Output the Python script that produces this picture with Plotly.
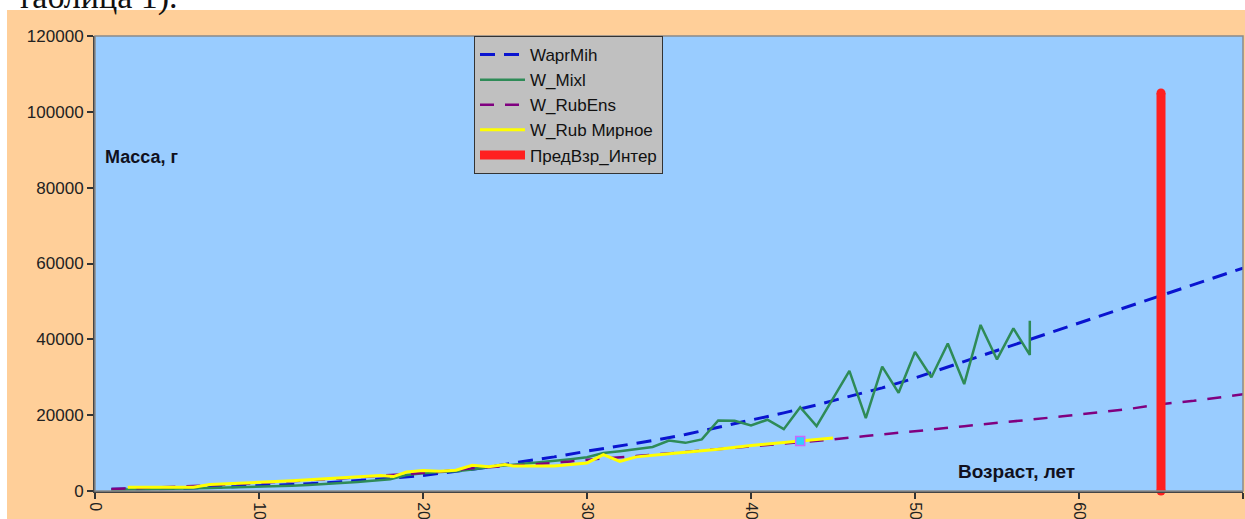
import plotly.graph_objects as go

# ---------------- data ----------------
wapr_age = [1, 2, 4, 6, 8, 10, 12, 14, 16, 18, 20, 22, 24, 26, 28, 30, 32, 34, 36, 38,
            40, 42, 44, 46, 48, 50, 52, 54, 56, 58, 60, 62, 64, 66, 68, 70]
wapr_val = [450, 450, 600, 800, 1050, 1350, 1700, 2150, 2700, 3350, 4100, 5200, 6300, 7700,
            9000, 10500, 11900, 13300, 14900, 16800, 18600, 20600, 22700, 24900, 27200,
            29800, 32700, 35600, 38500, 41300, 44300, 47200, 50100, 52800, 55800, 58800]

mixl_age = [1, 2, 3, 4, 5, 6, 7, 8, 9, 10, 11, 12, 13, 14, 15, 16, 17, 18, 19, 20, 21, 22,
            23, 24, 25, 26, 27, 28, 29, 30, 31, 32, 33, 34, 35, 36, 37, 38, 39, 40, 41, 42,
            43, 44, 46, 47, 48, 49, 50, 51, 52, 53, 54, 55, 56, 57, 57]
mixl_val = [300, 350, 400, 450, 500, 600, 800, 900, 1000, 1100, 1250, 1400, 1600, 1800,
            2100, 2400, 2800, 3100, 4200, 4700, 5000, 5200, 5700, 6300, 6700, 7100, 7500,
            7900, 8400, 8900, 10000, 10500, 11000, 11600, 13300, 12700, 13600, 18600, 18500,
            17300, 18800, 16300, 22100, 17100, 31700, 19200, 32800, 25900, 36700, 30000,
            38900, 28200, 43800, 34700, 42900, 35900, 44900]

rubens_age = [1, 3, 5, 7, 9, 11, 13, 15, 17, 19, 21, 23, 25, 27, 29, 31, 33, 35, 37, 39, 41,
              43, 45, 47, 49, 51, 53, 55, 57, 59, 61, 63, 65, 67, 70]
rubens_val = [500, 800, 1200, 1500, 1900, 2300, 2800, 3300, 3900, 4500, 5100, 6000, 6500,
              7100, 7800, 8600, 9200, 9900, 10600, 11300, 12000, 12800, 13600, 14500, 15300,
              16200, 17100, 17900, 18800, 19700, 20600, 21600, 22900, 23800, 25500]

rubmir_age = [2, 4, 6, 7, 9, 10, 12, 14, 16, 17.4, 18.2, 19, 20, 21, 22, 23, 24, 25, 25.5,
              28, 30, 31, 32, 33, 35, 38, 40, 43, 45]
rubmir_val = [1000, 1000, 1000, 1700, 2000, 2300, 2700, 3200, 3700, 4100, 3800, 5000, 5400,
              5200, 5500, 6800, 6400, 7000, 6600, 6600, 7400, 9600, 7800, 9000, 9800, 11000,
              12000, 13200, 14000]

marker_age = [43]
marker_val = [13200]

pred_age = [65, 65]
pred_val = [0, 105000]

x_ticks = [0, 10, 20, 30, 40, 50, 60, 70]
y_ticks = [0, 20000, 40000, 60000, 80000, 100000, 120000]

# ---------------- layout helpers ----------------
W, H = 1245, 519
ML, MR, MT, MB = 95, 2, 36, 28
PW, PH = W - ML - MR, H - MT - MB


def px_x(px):
    return (px - ML) / PW


def px_y(py):
    return (H - MB - py) / PH


FONT = "Liberation Sans, Arial, sans-serif"

fig = go.Figure()
fig.add_trace(go.Scatter(x=wapr_age, y=wapr_val, mode="lines", name="WaprMih",
                         line=dict(color="#0A14D0", width=3, dash="15px,9px")))
fig.add_trace(go.Scatter(x=mixl_age, y=mixl_val, mode="lines", name="W_Mixl",
                         line=dict(color="#2E8B57", width=2.5)))
fig.add_trace(go.Scatter(x=rubens_age, y=rubens_val, mode="lines", name="W_RubEns",
                         line=dict(color="#800080", width=2.5, dash="14px,11px")))
fig.add_trace(go.Scatter(x=rubmir_age, y=rubmir_val, mode="lines", name="W_Rub Мирное",
                         line=dict(color="#FFFF00", width=3)))
fig.add_trace(go.Scatter(x=marker_age, y=marker_val, mode="markers", showlegend=False,
                         marker=dict(symbol="square", size=9, color="#33CCFF",
                                     line=dict(color="#CC66FF", width=1.5))))
fig.add_trace(go.Scatter(x=pred_age, y=pred_val, mode="lines", name="ПредВзр_Интер",
                         line=dict(color="#FF2020", width=9)))
# rounded ends of the thick red line
fig.add_trace(go.Scatter(x=pred_age, y=pred_val, mode="markers", showlegend=False,
                         cliponaxis=False,
                         marker=dict(symbol="circle", size=9, color="#FF2020",
                                     line=dict(width=0))))

shapes = [
    # white strip at top and left (page background above the chart)
    dict(type="rect", xref="paper", yref="paper", x0=px_x(-5), x1=px_x(W + 5),
         y0=px_y(10), y1=px_y(-5), fillcolor="white", line=dict(width=0), layer="above"),
    dict(type="rect", xref="paper", yref="paper", x0=px_x(-5), x1=px_x(7),
         y0=px_y(H + 5), y1=px_y(-5), fillcolor="white", line=dict(width=0), layer="above"),
    # plot-area border (grey)
    dict(type="rect", xref="paper", yref="paper", x0=0, x1=1, y0=0, y1=1,
         line=dict(color="#8A8A8A", width=1.5), layer="above"),
]

annotations = [
    dict(text="<b>Масса, г</b>", xref="paper", yref="paper", x=px_x(103), y=px_y(157),
         xanchor="left", yanchor="middle", showarrow=False,
         font=dict(family=FONT, size=18, color="#101020")),
    dict(text="<b>Возраст, лет</b>", xref="paper", yref="paper", x=px_x(956), y=px_y(471),
         xanchor="left", yanchor="middle", showarrow=False,
         font=dict(family=FONT, size=19, color="#101020")),
    dict(text="таблица 1).", xref="paper", yref="paper", x=px_x(180), y=px_y(18),
         xanchor="right", yanchor="bottom", showarrow=False,
         font=dict(family="Liberation Serif, Times New Roman, serif", size=34, color="#111")),
]

fig.update_layout(
    width=W, height=H,
    margin=dict(l=ML, r=MR, t=MT, b=MB, pad=0, autoexpand=False),
    paper_bgcolor="#FFCF99",
    plot_bgcolor="#99CCFF",
    font=dict(family=FONT, size=17, color="#222"),
    showlegend=True,
    legend=dict(x=px_x(474), y=1, xanchor="left", yanchor="top",
                bgcolor="#C0C0C0", bordercolor="#333333", borderwidth=1,
                font=dict(family=FONT, size=17, color="#111"),
                tracegroupgap=0, itemwidth=45),
    shapes=shapes,
    annotations=annotations,
)

fig.update_xaxes(range=[0, 70], tickvals=x_ticks, ticktext=[str(v) for v in x_ticks],
                 tickangle=90, ticks="outside", ticklen=6, tickwidth=1.5, tickcolor="#333",
                 automargin=False,
                 showline=True, linecolor="#444", linewidth=2, showgrid=False, zeroline=False,
                 tickfont=dict(family=FONT, size=16, color="#222"))
fig.update_yaxes(range=[0, 120000], tickvals=y_ticks, ticktext=[str(v) for v in y_ticks],
                 ticks="outside", ticklen=6, tickwidth=1.5, tickcolor="#333",
                 automargin=False,
                 showline=True, linecolor="#444", linewidth=2, showgrid=False, zeroline=False,
                 tickfont=dict(family=FONT, size=17, color="#222"))

fig.write_html("out.html")
